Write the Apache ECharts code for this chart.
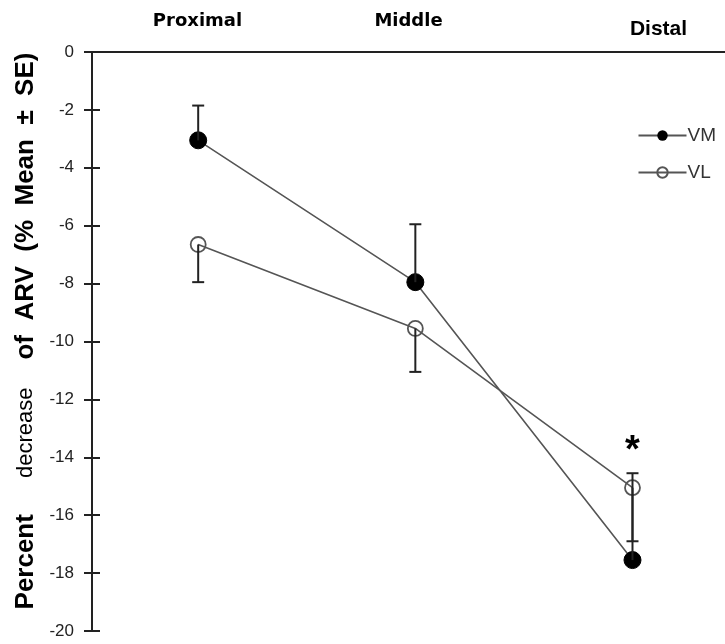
<!DOCTYPE html>
<html>
<head>
<meta charset="utf-8">
<script src="https://cdn.jsdelivr.net/npm/echarts@6/dist/echarts.min.js"></script>
<style>html,body{margin:0;padding:0;background:#fff;}#c{width:725px;height:644px;}</style>
</head>
<body>
<div id="c"></div>
<script>
var categories = ['Proximal', 'Middle', 'Distal'];
var positions = [1, 2, 3];
var vmMean = [-3.05, -7.95, -17.55];
var vlMean = [-6.65, -9.55, -15.05];
var vmErrEnd = [-1.85, -5.95, -14.55];
var vlErrEnd = [-7.95, -11.05, -16.9];
var yTicks = {min: -20, max: 0, step: 2};
var seriesNames = ['VM', 'VL'];
var sigMark = '*';

function pts(vals) { return vals.map(function (v, i) { return [positions[i], v]; }); }
function errs(means, ends) { return means.map(function (m, i) { return [positions[i], m, ends[i]]; }); }

function errRender(params, api) {
  var x = api.value(0), m = api.value(1), e = api.value(2);
  var p0 = api.coord([x, m]), p1 = api.coord([x, e]);
  var hw = 6;
  var st = {stroke: '#222', lineWidth: 2};
  return {type: 'group', children: [
    {type: 'line', shape: {x1: p0[0], y1: p0[1], x2: p1[0], y2: p1[1]}, style: st},
    {type: 'line', shape: {x1: p1[0] - hw, y1: p1[1], x2: p1[0] + hw, y2: p1[1]}, style: st}
  ]};
}

var chart = echarts.init(document.getElementById('c'), null, {renderer: 'canvas'});
var vlData = pts(vlMean).map(function (d, i) {
  var o = {value: d};
  if (i === 2) {
    o.label = {show: true, formatter: sigMark, position: 'top', distance: 9,
      fontSize: 38, fontWeight: 'bold', color: '#000', fontFamily: 'Liberation Sans'};
  }
  return o;
});

chart.setOption({
  animation: false,
  backgroundColor: '#fff',
  grid: {left: 92, right: 0, top: 52, bottom: 13, containLabel: false},
  legend: {
    orient: 'vertical', right: 4, top: 121, itemWidth: 48, itemHeight: 13, itemGap: 18,
    data: seriesNames,
    textStyle: {fontFamily: 'Liberation Sans', fontSize: 19, color: '#333', padding: [0, 0, 0, -4]}
  },
  xAxis: [
    {
      type: 'category', position: 'top', data: categories, boundaryGap: true,
      axisLine: {show: true, lineStyle: {color: '#222', width: 2}},
      axisTick: {show: false}, splitLine: {show: false},
      axisLabel: {
        margin: 12,
        formatter: function (v) { return v === 'Distal' ? '{d|' + v + '}' : '{p|' + v + '}'; },
        rich: {
          p: {fontFamily: 'DejaVu Sans', fontWeight: 'bold', fontSize: 18, color: '#000', padding: [0, 0, 10, 0]},
          d: {fontFamily: 'Liberation Sans', fontWeight: 'bold', fontSize: 21, color: '#000', padding: [0, 0, 0, 78]}
        }
      }
    },
    {
      type: 'value', position: 'top', min: 0.511, max: 3.426, show: false
    }
  ],
  yAxis: [
    {
      type: 'value', min: yTicks.min, max: yTicks.max, interval: yTicks.step,
      axisLine: {show: true, lineStyle: {color: '#222', width: 2}},
      axisTick: {show: true, length: 8, lineStyle: {color: '#222', width: 2}},
      splitLine: {show: false},
      axisLabel: {margin: 18, fontFamily: 'Liberation Sans', fontSize: 17, color: '#222'},
      name: '{b|Percent}{s|decrease}{b|of  ARV  (%  Mean  ±  SE)}',
      nameLocation: 'middle', nameRotate: 90, nameGap: 50,
      nameTextStyle: {
        padding: [0, 0, 0, 21],
        rich: {
          b: {fontFamily: 'Liberation Sans', fontWeight: 'bold', fontSize: 26, color: '#000'},
          s: {fontFamily: 'Liberation Sans', fontWeight: 'normal', fontSize: 22, color: '#000', padding: [0, 28, 0, 36]}
        }
      }
    },
    {
      type: 'value', min: yTicks.min, max: yTicks.max, interval: yTicks.step, position: 'left',
      axisLine: {show: false}, axisLabel: {show: false}, splitLine: {show: false},
      axisTick: {show: true, inside: true, length: 8, lineStyle: {color: '#222', width: 2}}
    }
  ],
  series: [
    {
      name: 'VM', type: 'line', xAxisIndex: 1, yAxisIndex: 0, data: pts(vmMean),
      symbol: 'circle', symbolSize: 17, z: 4,
      lineStyle: {color: '#555', width: 1.6},
      itemStyle: {color: '#000', borderColor: '#000'}
    },
    {
      name: 'VL', type: 'line', xAxisIndex: 1, yAxisIndex: 0, data: vlData,
      symbol: 'circle', symbolSize: 15, z: 4,
      lineStyle: {color: '#555', width: 1.6},
      itemStyle: {color: 'rgba(255,255,255,0)', borderColor: '#555', borderWidth: 1.8}
    },
    {
      type: 'custom', xAxisIndex: 1, yAxisIndex: 0, z: 5, renderItem: errRender,
      data: errs(vmMean, vmErrEnd), encode: {x: 0, y: [1, 2]}
    },
    {
      type: 'custom', xAxisIndex: 1, yAxisIndex: 0, z: 5, renderItem: errRender,
      data: errs(vlMean, vlErrEnd), encode: {x: 0, y: [1, 2]}
    }
  ]
});
</script>
</body>
</html>
